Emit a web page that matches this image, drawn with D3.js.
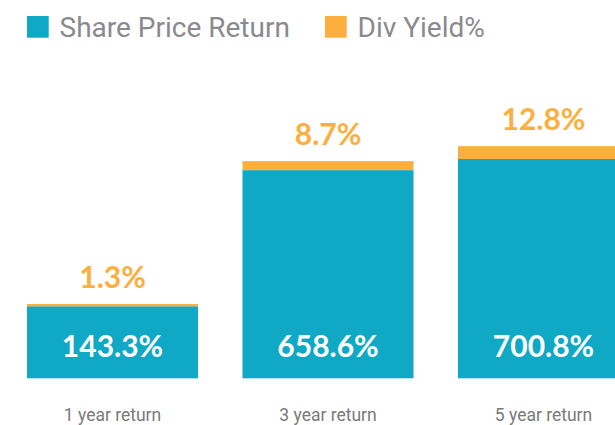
<!DOCTYPE html>
<html>
<head>
<meta charset="utf-8">
<script src="https://cdn.jsdelivr.net/npm/d3@7"></script>
<style>
  html, body { margin: 0; padding: 0; background: #fff; }
  svg { display: block; }
</style>
</head>
<body>
<svg id="chart" width="615" height="425"></svg>
<script>
const categories = ["1 year return", "3 year return", "5 year return"];
const sharePriceReturn = [143.3, 658.6, 700.8];
const divYield = [1.3, 8.7, 12.8];
const seriesNames = ["Share Price Return", "Div Yield%"];

const TEAL = "#0FA9C5";
const ORANGE = "#FCAF3E";

const svg = d3.select("#chart");
const baseline = 378.3;

const x = d3.scaleBand().domain(categories).range([27, 629]).paddingInner(0.2065).paddingOuter(0);
// the original bars are not proportional: value axis is offset
const y = d3.scaleLinear().domain([-129.4, 700.8]).range([baseline, 159]);
const yDiv = d3.scaleLinear().domain([-1.1, 12.8]).range([0, 12.83]);

const data = categories.map((c, i) => ({ c, s: sharePriceReturn[i], d: divYield[i] }));

const g = svg.append("g");

g.selectAll("rect.share").data(data).join("rect")
  .attr("class", "share")
  .attr("x", d => x(d.c))
  .attr("width", x.bandwidth())
  .attr("y", d => y(d.s))
  .attr("height", d => baseline - y(d.s))
  .attr("fill", TEAL);

g.selectAll("rect.div").data(data).join("rect")
  .attr("class", "div")
  .attr("x", d => x(d.c))
  .attr("width", x.bandwidth())
  .attr("y", d => y(d.s) - yDiv(d.d))
  .attr("height", d => yDiv(d.d))
  .attr("fill", ORANGE);

g.selectAll("text.sv").data(data).join("text")
  .attr("class", "sv")
  .attr("x", d => x(d.c) + x.bandwidth() / 2)
  .attr("y", baseline - 21.5)
  .attr("text-anchor", "middle")
  .attr("font-family", "Lato, sans-serif")
  .attr("font-weight", 700)
  .attr("font-size", 30)
  .attr("fill", "#fff")
  .text(d => d.s.toFixed(1) + "%");

g.selectAll("text.dv").data(data).join("text")
  .attr("class", "dv")
  .attr("x", d => x(d.c) + x.bandwidth() / 2)
  .attr("y", d => y(d.s) - yDiv(d.d) - 16)
  .attr("text-anchor", "middle")
  .attr("font-family", "Lato, sans-serif")
  .attr("font-weight", 700)
  .attr("font-size", 30)
  .attr("fill", ORANGE)
  .text(d => d.d.toFixed(1) + "%");

const xAxis = d3.axisBottom(x).tickSize(0).tickPadding(0);
const ax = svg.append("g").attr("transform", `translate(0,${baseline})`).call(xAxis);
ax.select(".domain").remove();
ax.selectAll("text")
  .attr("y", 0)
  .attr("dy", 0)
  .attr("transform", "translate(0,42.4)")
  .attr("font-family", "Roboto, sans-serif")
  .attr("font-size", 17.5)
  .attr("fill", "#7a7a7a");

const legendColors = [TEAL, ORANGE];
const legendX = [27, 325];
const lg = svg.append("g").selectAll("g").data(seriesNames).join("g")
  .attr("transform", (d, i) => `translate(${legendX[i]},16)`);
lg.append("rect").attr("width", 21.7).attr("height", 21.7).attr("fill", (d, i) => legendColors[i]);
lg.append("text")
  .attr("x", 32.5)
  .attr("y", 20.7)
  .attr("font-family", "Roboto, sans-serif")
  .attr("font-size", 28)
  .attr("fill", "#8a8a8e")
  .text(d => d);
</script>
</body>
</html>
